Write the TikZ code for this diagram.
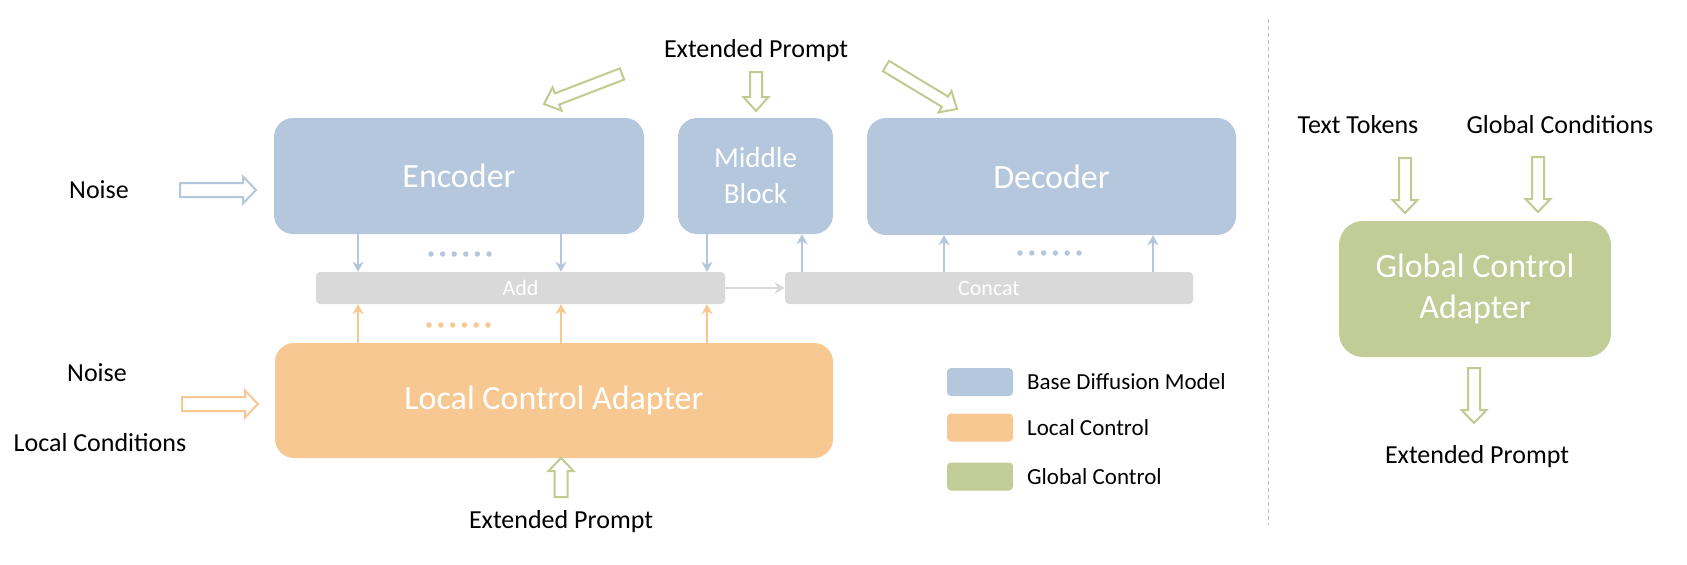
\documentclass[tikz,border=0pt]{standalone}
\usepackage{fontspec}
\setmainfont{Carlito}
\usetikzlibrary{calc,arrows.meta}
\definecolor{cblue}{RGB}{180,199,220}
\definecolor{corange}{RGB}{247,200,145}
\definecolor{cgreen}{RGB}{193,204,151}
\definecolor{cgreenln}{RGB}{190,204,145}
\definecolor{cgrey}{RGB}{217,217,217}
\definecolor{cdash}{RGB}{190,190,190}
\newcommand\blockarrow[6]{%
  \coordinate (ba-c) at ($(#3)!#6!(#2)$);
  \draw[#1] ($(#2)!#4!90:(#3)$) -- ($(ba-c)!#4!90:(#3)$) -- ($(ba-c)!#5!90:(#3)$) -- (#3)
    -- ($(ba-c)!#5!-90:(#3)$) -- ($(ba-c)!#4!-90:(#3)$) -- ($(#2)!#4!-90:(#3)$) -- cycle;
}
\tikzset{
  box/.style={rounded corners=19pt, text=white, inner sep=0pt, align=center, font=\fontsize{34}{41}\selectfont},
  bluebox/.style={box, fill=cblue},
  orbox/.style={box, fill=corange},
  grbox/.style={box, fill=cgreen, rounded corners=24pt},
  bar/.style={rounded corners=4pt, fill=cgrey, text=white, inner sep=0pt, font=\fontsize{22}{26}\selectfont},
  lbl/.style={inner sep=0pt, anchor=base, font=\fontsize{26}{30}\selectfont},
  legtxt/.style={inner sep=0pt, anchor=base west, font=\fontsize{23}{28}\selectfont},
  swatch/.style={rounded corners=4pt, minimum width=66pt, minimum height=28pt, inner sep=0pt},
  tarr/.style={line width=1.6pt, -{Stealth[length=10pt,width=11pt,inset=3pt]}},
  bablue/.style={draw=cblue, line width=2pt, fill=white, line join=miter},
  baor/.style={draw=corange, line width=2pt, fill=white, line join=miter},
  bagr/.style={draw=cgreenln, line width=2pt, fill=white, line join=miter},
  dot/.style={circle, inner sep=0pt, minimum size=5.5pt},
  dashln/.style={draw=cdash, line width=1pt, dash pattern=on 4pt off 3pt}
}
\begin{document}
\begin{tikzpicture}[x=1pt, y=-1pt]
\useasboundingbox (0,0) rectangle (1687,565);

% main boxes
\node[bluebox, minimum width=370pt, minimum height=116pt] (enc) at (459,176) {Encoder};
\node[bluebox, minimum width=155pt, minimum height=116pt, font=\fontsize{29}{36}\selectfont] (mid) at (755.5,176) {Middle\\Block};
\node[bluebox, minimum width=369pt, minimum height=117pt] (dec) at (1051.5,176.5) {Decoder};
\node[bar, minimum width=409pt, minimum height=32pt] (add) at (520.5,288) {Add};
\node[bar, minimum width=408pt, minimum height=32pt] (cat) at (989,288) {Concat};
\node[orbox, minimum width=558pt, minimum height=115pt] (loc) at (554,400.5) {Local Control Adapter};
\node[grbox, minimum width=272pt, minimum height=136pt] (glob) at (1475,289) {Global Control\\Adapter};

% labels
\node[lbl] (noise1) at (99,198) {Noise};
\node[lbl] (noise2) at (97,381) {Noise};
\node[lbl] (lcond) at (100,451) {Local Conditions};
\node[lbl] (exttop) at (756,57) {Extended Prompt};
\node[lbl] (extbot) at (561,528) {Extended Prompt};
\node[lbl] (extright) at (1477,463) {Extended Prompt};
\node[lbl] (ttok) at (1358,133) {Text Tokens};
\node[lbl] (gcond) at (1560,133) {Global Conditions};

% legend
\node[swatch, fill=cblue] (sw1) at (980,382) {};
\node[swatch, fill=corange] (sw2) at (980,427.5) {};
\node[swatch, fill=cgreen] (sw3) at (980,476.5) {};
\node[legtxt] (lg1) at (1027,389) {Base Diffusion Model};
\node[legtxt] (lg2) at (1027,435) {Local Control};
\node[legtxt] (lg3) at (1027,484) {Global Control};

% x positions of thin connectors
\coordinate (x1) at (358,0);
\coordinate (x2) at (561,0);
\coordinate (x3) at (707,0);
\coordinate (x4) at (802,0);
\coordinate (x5) at (944,0);
\coordinate (x6) at (1153,0);

\draw[tarr, cblue] (enc.south -| x1) -- (add.north -| x1);
\draw[tarr, cblue] (enc.south -| x2) -- (add.north -| x2);
\draw[tarr, cblue] (mid.south -| x3) -- (add.north -| x3);
\draw[tarr, corange] (loc.north -| x1) -- (add.south -| x1);
\draw[tarr, corange] (loc.north -| x2) -- (add.south -| x2);
\draw[tarr, corange] (loc.north -| x3) -- (add.south -| x3);
\draw[tarr, cgrey] (add.east) -- (cat.west);
\draw[tarr, cblue] (cat.north -| x4) -- (mid.south -| x4);
\draw[tarr, cblue] (cat.north -| x5) -- (dec.south -| x5);
\draw[tarr, cblue] (cat.north -| x6) -- (dec.south -| x6);

% dots
\foreach \i in {0,...,5} {
  \node[dot, fill=cblue] (bd\i) at (431+11.6*\i,254) {};
  \node[dot, fill=corange] (od\i) at (429+11.8*\i,325) {};
  \node[dot, fill=cblue] (rd\i) at (1020+11.8*\i,253) {};
}

% block arrows
\coordinate (nb-a) at (180,190); \coordinate (nb-b) at (256,190);
\blockarrow{bablue}{nb-a}{nb-b}{7pt}{13.5pt}{13pt}
\coordinate (no-a) at (182,404); \coordinate (no-b) at (258,404);
\blockarrow{baor}{no-a}{no-b}{7pt}{13.5pt}{13pt}
\coordinate (ge-a) at (622,74); \coordinate (ge-b) at (544,104);
\blockarrow{bagr}{ge-a}{ge-b}{6pt}{12.5pt}{14pt}
\coordinate (gm-a) at (756,72); \coordinate (gm-b) at (756,111);
\blockarrow{bagr}{gm-a}{gm-b}{6pt}{12.5pt}{14pt}
\coordinate (gd-a) at (886,66); \coordinate (gd-b) at (957,109);
\blockarrow{bagr}{gd-a}{gd-b}{6pt}{12.5pt}{14pt}
\coordinate (gl-a) at (561,497); \coordinate (gl-b) at (561,458);
\blockarrow{bagr}{gl-a}{gl-b}{6.5pt}{12.5pt}{13pt}
\coordinate (gt-a) at (1405,158); \coordinate (gt-b) at (1405,213);
\blockarrow{bagr}{gt-a}{gt-b}{6pt}{12.5pt}{13pt}
\coordinate (gc-a) at (1538,157); \coordinate (gc-b) at (1538,212);
\blockarrow{bagr}{gc-a}{gc-b}{6pt}{12.5pt}{13pt}
\coordinate (go-a) at (1474,368); \coordinate (go-b) at (1474,423);
\blockarrow{bagr}{go-a}{go-b}{6pt}{12.5pt}{13pt}

% separator
\coordinate (dl-t) at (1268,19); \coordinate (dl-b) at (1268,525);
\draw[dashln] (dl-t) -- (dl-b);
\end{tikzpicture}
\end{document}
